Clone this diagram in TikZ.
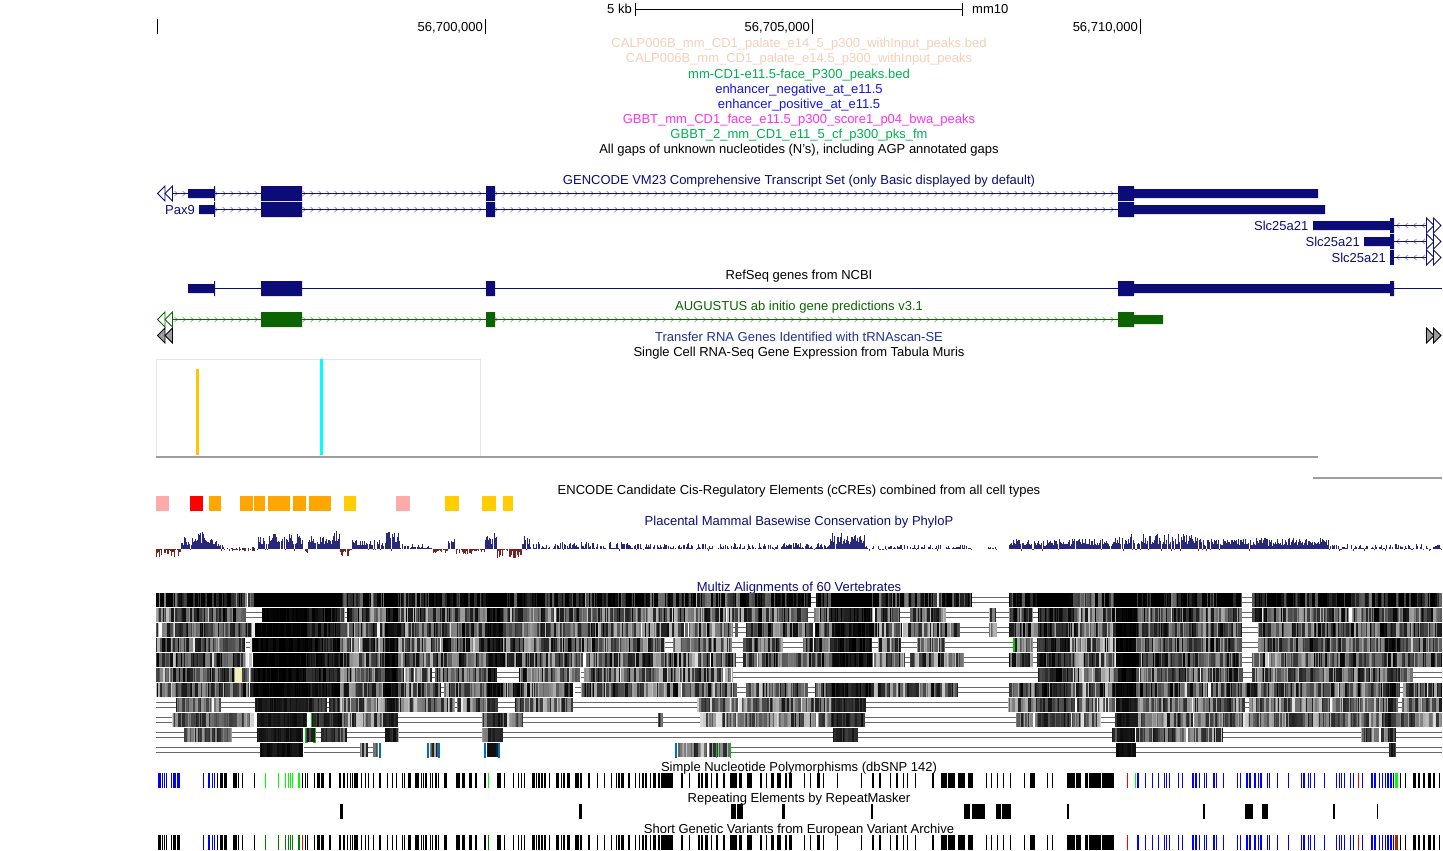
\documentclass[tikz,border=0pt]{standalone}
\usepackage{fontspec}
\setmainfont{Liberation Sans}
\definecolor{navy}{RGB}{12,12,120}
\definecolor{chev}{RGB}{150,150,200}
\definecolor{augu}{RGB}{12,100,0}
\definecolor{chevg}{RGB}{140,180,140}
\definecolor{peach}{RGB}{245,208,185}
\definecolor{tgreen}{RGB}{0,176,80}
\definecolor{tblue}{RGB}{20,20,235}
\definecolor{tmag}{RGB}{255,51,238}
\definecolor{trna}{RGB}{30,50,150}
\definecolor{pink}{RGB}{255,170,170}
\definecolor{orng}{RGB}{255,167,0}
\definecolor{yell}{RGB}{255,205,0}
\definecolor{cons}{RGB}{40,40,125}
\definecolor{consn}{RGB}{120,35,35}
\definecolor{gapc}{RGB}{105,105,105}
\definecolor{bblue}{RGB}{0,110,190}
\definecolor{bgreen}{RGB}{0,200,0}
\definecolor{sgreen}{RGB}{0,255,0}
\definecolor{dgreen}{RGB}{0,128,0}
\definecolor{sblue}{RGB}{0,0,255}
\definecolor{ccyan}{RGB}{0,255,255}
\definecolor{pale}{RGB}{240,240,180}
\tikzset{
  lab/.style={inner sep=0pt,font=\fontsize{13}{13}\selectfont,anchor=base},
  exon/.style={fill=navy,draw=none},
  chevron/.style={draw=chev,line width=0.8pt},
  gapline/.style={draw=gapc,line width=1pt},
  tri/.style={draw=navy,fill=white,line width=0.8pt},
}
% pseudo-random numbers
\newcount\rng \newcount\rngt \rng=12345
\def\nextrand{\global\rngt=\numexpr\rng*1021+7\relax
  \global\rng=\numexpr\rngt-32749*(\rngt/32749)\relax
  \ifnum\rng<0 \global\advance\rng 32749 \fi}
\def\rfl#1{\numexpr\rng-#1*((\rng-(#1-1)/2)/#1)\relax}
\newcount\zzx \newcount\zzend \newcount\zzw \newcount\zznext \newcount\zzk \newcount\zzbase \newcount\zzoff \newcount\zzh \newcount\zzn \newcount\zzv \newcount\zzd
\def\Z#1#2{\ifnum\zzx<#1 \zzbase=#2 \fi}
\def\setbase{\zzbase=66
 \Z{1396}{88}\Z{1388}{66}\Z{1200}{70}\Z{1136}{99}\Z{1116}{58}\Z{1070}{86}\Z{1036}{66}\Z{1008}{60}
 \Z{872}{92}\Z{830}{66}\Z{745}{58}\Z{700}{62}\Z{640}{64}\Z{522}{80}\Z{516}{60}\Z{503}{94}\Z{487}{68}\Z{432}{62}\Z{398}{95}\Z{385}{64}
 \Z{340}{90}\Z{305}{99}\Z{253}{42}\Z{245}{72}\Z{176}{58}}
\def\seg#1#2{\zzx=#1\relax\zzend=#2\relax\segloop}
\def\segloop{\ifnum\zzx<\zzend \segstep\expandafter\segloop\fi}
\def\segstep{\nextrand\nextrand
 \zzw=1
 \ifnum\rfl{5}=3 \zzw=2 \fi
 \ifnum\rfl{5}=4 \zzw=3 \fi
 \zznext=\numexpr\zzx+\zzw\relax
 \ifnum\zznext>\zzend \zznext=\zzend\fi
 \setbase\nextrand\nextrand
 \zzv=\numexpr\rfl{41}-20\relax
 \zzk=\numexpr\zzbase+\zzoff+\zzv*(105-\zzbase)/24\relax
 \nextrand\nextrand
 \ifnum\rfl{31}=0 \ifnum\zzbase<90 \advance\zzk by -40 \fi\fi
 \ifnum\zzk>100 \zzk=100 \fi
 \ifnum\zzk<0 \zzk=0 \fi
 \edef\kk{\the\zzk}%
 \fill[black!\kk] (\the\zzx,\rowy) rectangle (\the\zznext,\rowy+14);
 \zzx=\zznext}
\def\gp#1#2{\draw[gapline] (#1,\rowy+4.5) -- (#2,\rowy+4.5) (#1,\rowy+9.5) -- (#2,\rowy+9.5);}
% conservation track
\def\E#1#2#3{\ifnum\zzx<#1 \zzh=#2 \zzn=#3 \fi}
\def\setenv{\zzh=5 \zzn=0
 \E{1330}{11}{0}\E{1200}{15}{0}\E{1135}{15}{0}\E{1115}{10}{0}\E{1009}{0}{0}\E{997}{3}{0}\E{988}{0}{0}\E{972}{4}{0}\E{865}{16}{0}\E{830}{6}{0}
 \E{630}{7}{0}\E{530}{13}{0}\E{522}{0}{9}\E{497}{16}{0}\E{485}{0}{5}\E{455}{11}{0}\E{447}{0}{4}\E{433}{5}{0}\E{400}{18}{0}\E{385}{9}{0}\E{352}{0}{1}
 \E{350}{0}{10}\E{340}{18}{0}\E{333}{13}{0}\E{308}{0}{4}\E{303}{15}{0}\E{257}{2}{2}\E{232}{5}{0}\E{217}{10}{0}\E{208}{17}{0}\E{196}{12}{0}\E{181}{0}{8}}
\def\consloop{\ifnum\zzx<1442 \consstep\expandafter\consloop\fi}
\def\consstep{\setenv\nextrand\nextrand
 \zzv=\numexpr\rfl{41}\relax \nextrand\nextrand
 \ifnum\zzh>0
   \ifnum\zzh>7 \zzd=\numexpr\zzh*(30+\zzv*7/4)/100\relax
   \else \zzd=\numexpr\zzh*\zzv*\zzv/1600\relax \fi
   \ifnum\rfl{11}=0 \zzn=2 \zzd=0 \fi
   \ifnum\zzd>0 \fill[cons] (\the\zzx,549-\the\zzd) rectangle (\the\zzx+1,549); \fi
 \fi
 \ifnum\zzn>0 \zzd=\numexpr\zzn*\zzv/40\relax
   \ifnum\zzd>0 \fill[consn] (\the\zzx,549) rectangle (\the\zzx+1,549+\the\zzd); \fi
 \fi
 \advance\zzx by 1 }
% variation bars, positions as read at 3x (a) and at 1.923x (b)
\def\lstA{201/203,210/218,222/231,249/261,264/267,277/279,313/314,457/459,466/468,472/474,492/496,500/510,514/522,537/544,567/574,578/585,592/595,601/603,605/608,612/624,633/635,645/647,653/655,670/672,686/692,712/714,726/728,737/739,755/757,763/765,775/783,795/807,813/815,819/821,825/831,839/841,846/848,854/860,865/867,882/891,918/930,936/945,957/966,975/981,1003/1009,1041/1053,1062/1064,1088/1092,1105/1107,1114/1116,1123/1125,1146/1155,1159/1162,1164/1170,1173/1179,1182/1188,1197/1199,1218/1227,1233/1235,1238/1240,1243/1245,1251/1260,1275/1287,1290/1296,1314/1320,1341/1343,1362/1364,1384/1386,1398/1400,1404/1410,1413/1422,1434/1440}
\def\lstB{10/12,17/20,23/26,29/33,38/40,44/50,53/57,59/82,98/101,113/116,130/134,137/140,145/150,155/157,165/170,178/182,193/205,210/215,225/235,250/253,262/264,272/277,283/290,298/302,305/312,335/337,347/349,360/365,372/374,398/400,445/447,465/470,478/483,500/502,512/515,525/527,533/535,548/550,580/585,598/610,612/625,630/645,650/660,685/687,695/697,705/707,718/720,730/732,757/759,770/778,802/804,812/814,840/855,858/868,875/880,883/905,908/930,1480/1483,1490/1493,1505/1512,1515/1520,1525/1528,1535/1541,1544/1548,1555/1558}
\def\lstBlue{975/978,990/992,1003/1005,1015/1017,1026/1028,1031/1033,1037/1039,1053/1055,1062/1064,1080/1084,1087/1090,1095/1097,1103/1105,1108/1110,1122/1124,1126/1128,1140/1142,1168/1170,1173/1175,1185/1188,1191/1195,1200/1204,1207/1209,1212/1215,1225/1227,1229/1231,1245/1247,1265/1267,1290/1292,1295/1298,1303/1305,1308/1310,1315/1317,1335/1337,1358/1360,1363/1365,1368/1370,1373/1375,1385/1387,1390/1392,1408/1410,1425/1428,1431/1435,1440/1443,1446/1448,1451/1453,1456/1460,1462/1466,1468/1470}
\def\lstAblue{160/162,174/180,186/188,192/195}
\def\lstAgreen{346/348,385/387,406/408,415/417,421/423,427/429,444/450,1014/1017}
\def\lstAone{24/32,36/38,42/44,47/50,63/66,69/78,81/90}
\def\snprow#1#2#3{%
 \foreach \a/\b in \lstAone {\fill[#2] (150+\a/3,#1) rectangle (150+\b/3,#1+15);}
 \foreach \a/\b in \lstAblue {\fill[sblue] (150+\a/3,#1) rectangle (150+\b/3,#1+15);}
 \foreach \a/\b in \lstAgreen {\fill[#3] (150+\a/3,#1) rectangle (150+\b/3,#1+15);}
 \foreach \a/\b in \lstA {\fill[black] (150+\a/3,#1) rectangle (150+\b/3,#1+15);}
 \foreach \a/\b in \lstB {\fill[black] (630+\a/1.923,#1) rectangle (630+\b/1.923,#1+15);}
 \foreach \a/\b in \lstBlue {\fill[sblue] (630+\a/1.923,#1) rectangle (630+\b/1.923,#1+15);}
}
% gene track helpers
\def\chevR#1#2#3#4#5{\foreach \x in {#3,#4,...,#5} {\draw[#2] (\x-1.5,#1-2.5) -- (\x+1.5,#1) -- (\x-1.5,#1+2.5);}}
\def\chevL#1#2#3#4#5{\foreach \x in {#3,#4,...,#5} {\draw[#2] (\x+1.5,#1-2.5) -- (\x-1.5,#1) -- (\x+1.5,#1+2.5);}}
\def\triL#1#2#3{\path[#3] (#1,#2) -- (#1+7.5,#2-7.5) -- (#1+7.5,#2+7.5) -- cycle;}
\def\triR#1#2#3{\path[#3] (#1,#2-7.5) -- (#1+7.5,#2) -- (#1,#2+7.5) -- cycle;}
\begin{document}
\begin{tikzpicture}[x=1pt,y=-1pt]
\useasboundingbox (0,0) rectangle (1443,851);
\fill[white] (0,0) rectangle (1443,851);
% ruler
\draw[black,line width=1pt] (635.5,3) -- (635.5,16) (962.5,3) -- (962.5,16) (635.5,9.5) -- (962.5,9.5);
\node[lab,anchor=base east] (scale) at (632,14) {5 kb};
\node[lab,anchor=base west] (asm) at (972,14) {mm10};
\draw[black,line width=1pt] (157.5,19) -- (157.5,34) (485.5,19) -- (485.5,34) (812.5,19) -- (812.5,34) (1140.5,19) -- (1140.5,34);
\node[lab,anchor=base east] (p1) at (483,32) {56,700,000};
\node[lab,anchor=base east] (p2) at (810,32) {56,705,000};
\node[lab,anchor=base east] (p3) at (1138,32) {56,710,000};
% titles
\node[lab,text=peach] (t1) at (799,48) {CALP006B\_mm\_CD1\_palate\_e14\_5\_p300\_withInput\_peaks.bed};
\node[lab,text=peach] (t2) at (799,63) {CALP006B\_mm\_CD1\_palate\_e14.5\_p300\_withInput\_peaks};
\node[lab,text=tgreen] (t3) at (799,78) {mm-CD1-e11.5-face\_P300\_peaks.bed};
\node[lab,text=tblue] (t4) at (799,93) {enhancer\_negative\_at\_e11.5};
\node[lab,text=tblue] (t5) at (799,108) {enhancer\_positive\_at\_e11.5};
\node[lab,text=tmag] (t6) at (799,123) {GBBT\_mm\_CD1\_face\_e11.5\_p300\_score1\_p04\_bwa\_peaks};
\node[lab,text=tgreen] (t7) at (799,138) {GBBT\_2\_mm\_CD1\_e11\_5\_cf\_p300\_pks\_fm};
\node[lab,text=black] (t8) at (799,153) {All gaps of unknown nucleotides (N\char39 s), including AGP annotated gaps};
\node[lab,text=navy] (t9) at (799,184) {GENCODE VM23 Comprehensive Transcript Set (only Basic displayed by default)};
\node[lab,text=black] (t10) at (799,279) {RefSeq genes from NCBI};
\node[lab,text=augu] (t11) at (799,310) {AUGUSTUS ab initio gene predictions v3.1};
\node[lab,text=trna] (t12) at (799,341) {Transfer RNA Genes Identified with tRNAscan-SE};
\node[lab,text=black] (t13) at (799,356) {Single Cell RNA-Seq Gene Expression from Tabula Muris};
\node[lab,text=black] (t14) at (799,494) {ENCODE Candidate Cis-Regulatory Elements (cCREs) combined from all cell types};
\node[lab,text=navy] (t15) at (799,525) {Placental Mammal Basewise Conservation by PhyloP};
\node[lab,text=navy] (t16) at (799,591) {Multiz Alignments of 60 Vertebrates};
\node[lab,text=black] (t17) at (799,771) {Simple Nucleotide Polymorphisms (dbSNP 142)};
\node[lab,text=black] (t18) at (799,802) {Repeating Elements by RepeatMasker};
\node[lab,text=black] (t19) at (799,833) {Short Genetic Variants from European Variant Archive};
% GENCODE tracks
\chevR{193.5}{chevron}{176}{184}{186}
\chevR{193.5}{chevron}{216}{224}{1116}
\draw[navy,line width=1pt] (172,193.5) -- (1118,193.5);
\chevR{209.5}{chevron}{216}{224}{1116}
\draw[navy,line width=1pt] (215,209.5) -- (1118,209.5);
\triL{157.5}{193.5}{tri}\triL{165}{193.5}{tri}
\fill[exon] (188,189) rectangle (214,198) (214,186) rectangle (215,201) (261,186) rectangle (302,201) (486,186) rectangle (495,201) (1118,186) rectangle (1134,201) (1134,189) rectangle (1318,198);
\fill[exon] (199,205) rectangle (214,214) (214,202) rectangle (215,217) (261,202) rectangle (302,217) (486,202) rectangle (495,217) (1118,202) rectangle (1134,217) (1134,205) rectangle (1325,214);
\node[lab,text=navy,anchor=base east] (pax) at (195,214) {Pax9};
% Slc25a21
\chevL{225.5}{chevron}{1398}{1406.5}{1424}
\chevL{241.5}{chevron}{1398}{1406.5}{1424}
\chevL{257.5}{chevron}{1398}{1406.5}{1424}
\draw[navy,line width=1pt] (1394,225.5) -- (1426,225.5) (1394,241.5) -- (1426,241.5) (1394,257.5) -- (1426,257.5);
\fill[exon] (1313,221) rectangle (1390,230) (1390,218) rectangle (1394,233);
\fill[exon] (1364,237) rectangle (1390,246) (1390,234) rectangle (1394,249);
\fill[exon] (1390,250) rectangle (1394,265);
\foreach \yy in {225.5,241.5,257.5} {\triR{1426.5}{\yy}{tri}\triR{1433.5}{\yy}{tri}}
\node[lab,text=navy,anchor=base east] (s1) at (1308.5,230) {Slc25a21};
\node[lab,text=navy,anchor=base east] (s2) at (1360,246) {Slc25a21};
\node[lab,text=navy,anchor=base east] (s3) at (1386,262) {Slc25a21};
% RefSeq
\draw[navy,line width=1pt] (215,288.5) -- (1118,288.5) (1394,288.5) -- (1442,288.5);
\fill[exon] (188,284) rectangle (214,293) (214,281) rectangle (215,296) (261,281) rectangle (302,296) (486,281) rectangle (495,296) (1118,281) rectangle (1134,296) (1134,284) rectangle (1390,293) (1390,281) rectangle (1394,296);
% AUGUSTUS
\chevR{319.5}{draw=chevg,line width=0.8pt}{176}{184}{1116}
\draw[augu,line width=1pt] (172,319.5) -- (1118,319.5);
\triL{157.5}{319.5}{draw=augu,fill=white,line width=0.8pt}\triL{165}{319.5}{draw=augu,fill=white,line width=0.8pt}
\fill[augu] (261,312) rectangle (302,327) (486,312) rectangle (495,327) (1118,312) rectangle (1134,327) (1134,315) rectangle (1163,324);
% tRNA end markers
\triL{157.5}{335.5}{draw=black,fill=black!38,line width=0.8pt}\triL{165}{335.5}{draw=black,fill=black!38,line width=0.8pt}
\triR{1426.5}{335.5}{draw=black,fill=black!38,line width=0.8pt}\triR{1433.5}{335.5}{draw=black,fill=black!38,line width=0.8pt}
% Tabula Muris
\draw[black!10,line width=1pt] (156.5,456) -- (156.5,359.5) -- (480.5,359.5) -- (480.5,456);
\fill[yell!80!orng] (196,369) rectangle (199,455);
\fill[ccyan] (320,359) rectangle (323,455);
\fill[black!38] (156,456) rectangle (1318,458);
\fill[black!38] (1313,476.5) rectangle (1442,478.5);
% cCREs
\foreach \a/\b/\c in {156/169/pink,190/203/red,209/221/orng,240/253/orng,254/265/orng,268/290/orng,293/306/orng,309/331/orng,344/356/yell,396/410/pink,445/459/yell,482/496/yell,503/513/yell}
  {\fill[\c] (\a,496) rectangle (\b,511);}
% PhyloP
\zzx=156 \consloop
% Multiz rows
\def\rowy{593}\zzoff=28
\seg{156}{247}\seg{248}{811}\gp{811}{816}\seg{816}{972}\gp{972}{1009}\seg{1009}{1242}\gp{1242}{1252}\seg{1252}{1442}
\def\rowy{608}\zzoff=0
\seg{156}{246}\gp{246}{262}\seg{262}{345}\gp{345}{347}\seg{347}{808}\gp{808}{814}\seg{814}{873}\seg{875}{900}\gp{900}{910}\seg{910}{946}\gp{946}{989}\seg{989}{996}\gp{996}{1009}\seg{1009}{1033}\gp{1033}{1038}\seg{1038}{1242}\gp{1242}{1252}\seg{1252}{1442}
\def\rowy{623}\zzoff=2
\seg{156}{733}\gp{733}{735}\seg{735}{738}\gp{738}{746}\seg{746}{813}\seg{815}{902}\seg{903}{960}\gp{960}{989}\seg{989}{997}\gp{997}{1009}\seg{1009}{1242}\gp{1242}{1258}\seg{1258}{1442}
\def\rowy{638}\zzoff=0
\seg{156}{245}\gp{246}{250}\seg{250}{440}\seg{441}{665}\gp{665}{673}\seg{673}{732}\gp{732}{743}\seg{743}{783}\gp{783}{803}\seg{803}{872}\gp{872}{878}\seg{878}{901}\gp{901}{917}\seg{917}{945}\gp{945}{1013}\seg{1014}{1033}\gp{1033}{1037}\seg{1037}{1242}\gp{1242}{1258}\seg{1258}{1442}
\fill[bgreen] (1013,638) rectangle (1014.5,652);
\def\rowy{653}\zzoff=2
\seg{156}{736}\gp{736}{743}\seg{743}{873}\seg{874}{905}\gp{905}{910}\seg{910}{964}\gp{964}{1009}\seg{1009}{1033}\gp{1033}{1037}\seg{1037}{1242}\gp{1242}{1252}\seg{1252}{1442}
\def\rowy{668}\zzoff=-2
\seg{156}{432}\gp{432}{435}\seg{435}{497}\gp{497}{519}\seg{519}{580}\gp{581}{584}\seg{584}{733}\gp{733}{1038}\seg{1038}{1243}\gp{1243}{1252}\seg{1252}{1413}\gp{1413}{1442}
\fill[pale] (235,668) rectangle (242,682);
\def\rowy{683}\zzoff=0
\seg{156}{441}\gp{441}{444}\seg{444}{573}\gp{575}{581}\seg{581}{737}\gp{737}{746}\seg{746}{808}\gp{808}{815}\seg{815}{958}\gp{958}{1009}\seg{1009}{1400}\gp{1400}{1403}\seg{1403}{1442}
\def\rowy{698}\zzoff=-8
\gp{156}{176}\seg{176}{221}\gp{221}{255}\seg{255}{327}\gp{327}{329}\seg{329}{455}\gp{455}{457}\seg{457}{498}\gp{498}{515}\seg{515}{573}\gp{573}{697}\seg{697}{866}\gp{866}{1008}\seg{1008}{1245}\gp{1245}{1249}\seg{1249}{1398}\gp{1398}{1402}\seg{1402}{1442}
\def\rowy{713}\zzoff=-8
\gp{156}{172}\seg{172}{254}\seg{257}{307}\seg{311}{398}\gp{398}{482}\seg{482}{523}\gp{523}{658}\seg{658}{663}\gp{663}{700}\seg{700}{865}\gp{865}{1016}\seg{1016}{1101}\gp{1101}{1115}\seg{1115}{1442}
\fill[bgreen] (311,713) rectangle (312,727);
\def\rowy{728}\zzoff=-8
\gp{156}{184}\seg{184}{232}\gp{232}{257}\seg{257}{303}\seg{306}{316}\gp{316}{321}\seg{321}{347}\gp{347}{385}\seg{385}{399}\gp{399}{482}\seg{482}{503}\gp{503}{833}\seg{833}{858}\gp{858}{1112}\seg{1112}{1135}\seg{1136}{1186}\seg{1188}{1223}\gp{1223}{1361}\seg{1361}{1379}\seg{1381}{1396}\gp{1396}{1442}
\draw[bgreen,line width=1pt] (305.5,728) -- (305.5,742.5) -- (308,742.5) (315.5,728) -- (315.5,742.5) -- (313,742.5);
\def\rowy{743}\zzoff=-5
\gp{156}{260}\seg{260}{303}\gp{304}{360}\seg{360}{368}\gp{368}{373}\seg{373}{378}\seg{430}{438}\seg{487}{498}\seg{678}{716}\seg{717}{730}\gp{731}{1116}\seg{1116}{1136}\gp{1136}{1389}\seg{1389}{1396}\gp{1396}{1442}
\foreach \a in {379,427,438,484,498,675} {\fill[bblue] (\a,743) rectangle (\a+2,758);}
\foreach \a in {716,730} {\fill[bgreen] (\a,743) rectangle (\a+1,758);}
% variation tracks
\snprow{773}{sblue}{sgreen}
\foreach \a/\c in {956/red,971/sgreen,1400/red,1472/sgreen} {\fill[\c] (630+\a/1.923,773) rectangle (630+\a/1.923+1.2,788);}
\fill[sgreen] (1395,773) rectangle (1398,788);
\snprow{835}{black}{dgreen}
\foreach \a/\c in {956/red,1400/red,1472/red,1475/dgreen} {\fill[\c] (630+\a/1.923,835) rectangle (630+\a/1.923+1.2,850);}
\fill[red] (302,835) rectangle (303,850);
% RepeatMasker
\foreach \a/\b in {340/343,579/582,731/736,737/743,782/785,871/873,964/970,972/985,996/1001,1002/1011,1067/1069,1203/1205,1245/1253,1262/1268,1333/1335,1377/1378}
  {\fill[black] (\a,804) rectangle (\b,819);}
\end{tikzpicture}
\end{document}
